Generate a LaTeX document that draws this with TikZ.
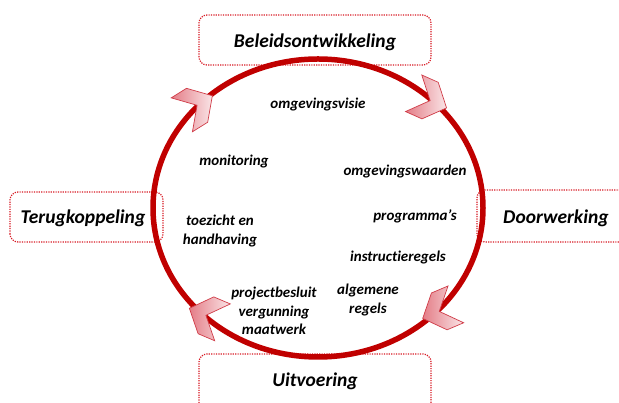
\documentclass[tikz,border=0pt]{standalone}
\usepackage{fontspec}
\setmainfont{Carlito}[Ligatures=NoCommon]
\definecolor{ringred}{RGB}{192,0,0}
\definecolor{dotred}{RGB}{215,25,35}
\definecolor{chevfill}{RGB}{228,125,135}
\definecolor{chevedge}{RGB}{208,60,72}
\tikzset{
  stage/.style={draw=dotred, line width=1.2pt, dash pattern=on 1.2pt off 1.2pt, rounded corners=8pt},
  stagetext/.style={font=\fontsize{19.5}{22}\selectfont\bfseries\itshape, inner sep=0pt},
  topic/.style={font=\fontsize{15}{18.5}\selectfont\bfseries\itshape, align=center, inner sep=0pt},
  chev/.style={draw=chevedge, line width=0.7pt, left color=chevfill, right color=chevfill!20!white}
}
\begin{document}
\begin{tikzpicture}[x=1pt,y=1pt]
\clip (0,0) rectangle (619,403);

\draw[stage] (199,338) rectangle (431,388);
\draw[stage] (10,161) rectangle (163,211);
\draw[stage] (477,161) rectangle (660,213);
\draw[stage] (199,-20) rectangle (431,49);

\draw[ringred, line width=5.5pt] (318,195) ellipse [x radius=165, y radius=149];

\begin{scope}[shift={(318,195)}]
\foreach \t/\a in {45/-24,135/32,225/157,315/-157}
{
    \draw[chev, shift={(\t:165 and 149)}, rotate=\a] (13,0) -- (-5,20) -- (-23,20) -- (-5,0) -- (-23,-20) -- (-5,-20) -- cycle;
}
\end{scope}

\node[stagetext] (beleid) at (315,361) {Beleidsontwikkeling};
\node[stagetext] (terug) at (83,185) {Terugkoppeling};
\node[stagetext] (door) at (556,185) {Doorwerking};
\node[stagetext] (uitv) at (315,22) {Uitvoering};

\foreach \x/\y/\name/\txt in {318/298/visie/omgevingsvisie, 234/241/monitoring/monitoring,
  405/231/waarden/omgevingswaarden, 415/187/programmas/programma’s,
  220/172/toezicht/{toezicht en\\handhaving}, 398/145/instructie/instructieregels,
  368/103/algemeen/{algemene\\regels}, 274/92/project/{projectbesluit\\vergunning\\maatwerk}}
{
    \node[topic] (\name) at (\x,\y) {\txt};
}
\end{tikzpicture}
\end{document}
